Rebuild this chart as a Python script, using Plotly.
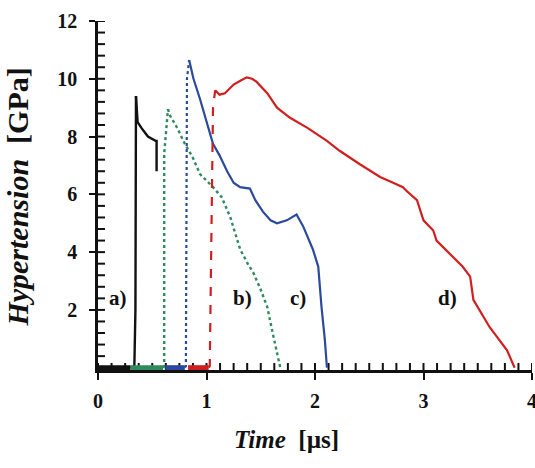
import plotly.graph_objects as go

# Stress histories (time in microseconds, stress in GPa)
a_time = [0.0, 0.30, 0.335, 0.345, 0.35, 0.365, 0.40, 0.46, 0.53, 0.54, 0.54]
a_stress = [0.0, 0.0, 0.05, 2.0, 9.4, 8.5, 8.3, 8.0, 7.85, 7.85, 6.8]

b_time = [0.30, 0.60, 0.61, 0.61, 0.645, 0.66, 0.73, 0.80, 0.87, 0.94, 1.06, 1.14,
          1.22, 1.31, 1.38, 1.43, 1.50, 1.56, 1.61, 1.68]
b_stress = [0.0, 0.0, 0.05, 7.4, 8.95, 8.75, 8.3, 7.75, 7.3, 6.7, 6.25, 5.9,
            5.2, 4.1, 3.6, 3.3, 2.7, 2.1, 1.2, 0.0]

c_time = [0.62, 0.80, 0.81, 0.82, 0.84, 0.88, 0.94, 1.00, 1.06, 1.12, 1.19, 1.25,
          1.31, 1.40, 1.45, 1.52, 1.59, 1.65, 1.74, 1.83, 1.89, 1.98, 2.03, 2.06,
          2.09, 2.11]
c_stress = [0.0, 0.0, 0.05, 10.0, 10.65, 10.0, 9.3, 8.5, 7.75, 7.35, 6.8, 6.4,
            6.25, 6.2, 5.8, 5.4, 5.1, 5.0, 5.1, 5.3, 4.9, 4.1, 3.5, 2.1,
            1.0, 0.0]

d_time = [0.83, 1.02, 1.03, 1.06, 1.08, 1.12, 1.17, 1.25, 1.32, 1.37, 1.42, 1.46,
          1.56, 1.65, 1.77, 1.93, 2.11, 2.23, 2.41, 2.60, 2.72, 2.81, 2.85, 2.94,
          3.00, 3.09, 3.12, 3.25, 3.36, 3.43, 3.46, 3.61, 3.77, 3.84]
d_stress = [0.0, 0.0, 0.05, 9.0, 9.6, 9.45, 9.5, 9.8, 9.95, 10.05, 10.0, 9.9,
            9.5, 9.0, 8.65, 8.3, 7.85, 7.5, 7.05, 6.6, 6.4, 6.25, 6.1, 5.8,
            5.1, 4.75, 4.4, 3.9, 3.5, 3.15, 2.35, 1.4, 0.6, 0.0]

curve_labels = ["a)", "b)", "c)", "d)"]
label_time = [0.18, 1.33, 1.84, 3.22]
label_stress = [2.4, 2.4, 2.4, 2.4]

x_ticks = [0, 1, 2, 3, 4]
y_ticks = [2, 4, 6, 8, 10, 12]
x_minor_step = 0.125
y_minor_step = 0.4

X_RANGE = [0, 4]
Y_RANGE = [-0.08, 12]

W, H = 535, 468
MARGIN = dict(l=98, r=3, t=21, b=98)

SERIF = "Liberation Serif"
BLACK = "#111111"
GREEN = "#2f8a5c"
BLUE = "#2b4a9c"
RED = "#d01f1f"

fig = go.Figure()

# minor ticks on the inner side of both axes, as short segments
plot_w = W - MARGIN["l"] - MARGIN["r"]
plot_h = H - MARGIN["t"] - MARGIN["b"]
x_per_px = (X_RANGE[1] - X_RANGE[0]) / plot_w
y_per_px = (Y_RANGE[1] - Y_RANGE[0]) / plot_h
tick_x, tick_y = [], []
for i in range(int(round((X_RANGE[1] - X_RANGE[0]) / x_minor_step)) + 1):
    v = X_RANGE[0] + i * x_minor_step
    tick_x += [v, v, None]
    tick_y += [Y_RANGE[0], Y_RANGE[0] + 7 * y_per_px, None]
for i in range(int(round(12 / y_minor_step)) + 1):
    v = i * y_minor_step
    tick_x += [X_RANGE[0], X_RANGE[0] + 7 * x_per_px, None]
    tick_y += [v, v, None]
fig.add_trace(go.Scatter(x=tick_x, y=tick_y, mode="lines", connectgaps=False,
                         line=dict(color=BLACK, width=2), hoverinfo="skip"))


def add_curve(t, p, color, rise_end, rise_dash, fall_dash, width=2.2):
    # flat baseline on the time axis
    fig.add_trace(go.Scatter(x=t[:2], y=p[:2], mode="lines",
                             line=dict(color=color, width=5), hoverinfo="skip"))
    # shock front
    fig.add_trace(go.Scatter(x=t[1:rise_end], y=p[1:rise_end], mode="lines",
                             line=dict(color=color, width=width, dash=rise_dash)))
    # release
    fig.add_trace(go.Scatter(x=t[rise_end - 1:], y=p[rise_end - 1:], mode="lines",
                             line=dict(color=color, width=width, dash=fall_dash)))


add_curve(a_time, a_stress, BLACK, 5, "solid", "solid", 2.4)
add_curve(b_time, b_stress, GREEN, 5, "dot", "dot", 2.4)
add_curve(c_time, c_stress, BLUE, 5, "dot", "solid", 2.2)
add_curve(d_time, d_stress, RED, 5, "dash", "solid", 2.2)

for lab, tx, ty in zip(curve_labels, label_time, label_stress):
    fig.add_annotation(x=tx, y=ty, text="<b>%s</b>" % lab, showarrow=False,
                       font=dict(family=SERIF, size=21, color=BLACK))

# axis titles
fig.add_annotation(xref="paper", yref="paper", x=0.435, y=-0.2,
                   text="<b><i>Time</i></b>\u00a0\u00a0<b>[\u00b5s]</b>",
                   showarrow=False, xanchor="center", yanchor="middle",
                   font=dict(family=SERIF, size=25, color=BLACK))
fig.add_annotation(xref="paper", yref="paper", x=-0.185, y=0.496,
                   text="<b><i>Hypertension</i></b>\u00a0\u00a0<b>[GPa]</b>",
                   showarrow=False, textangle=-90, xanchor="center", yanchor="middle",
                   font=dict(family=SERIF, size=30, color=BLACK))

fig.update_layout(
    width=W, height=H,
    margin=dict(**MARGIN, autoexpand=False),
    paper_bgcolor="white", plot_bgcolor="white",
    showlegend=False,
    font=dict(family=SERIF, color=BLACK),
    xaxis=dict(
        range=X_RANGE, tickmode="linear", tick0=x_ticks[0], dtick=x_ticks[1] - x_ticks[0],
        tickformat="d", ticklabeloverflow="allow", automargin=False,
        showgrid=False, zeroline=False, showline=True, linecolor=BLACK, linewidth=3,
        ticks="outside", ticklen=7, tickwidth=2, tickcolor=BLACK,
        ticklabelstandoff=4, tickfont=dict(family=SERIF, size=20, color=BLACK, weight="bold"),
    ),
    yaxis=dict(
        range=Y_RANGE, tickmode="array", tickvals=y_ticks,
        ticktext=["<b>%d</b>" % v for v in y_ticks], automargin=False,
        showgrid=False, zeroline=False, showline=True, linecolor=BLACK, linewidth=2.5,
        ticks="outside", ticklen=6, tickwidth=2, tickcolor=BLACK,
        ticklabelstandoff=8, tickfont=dict(family=SERIF, size=20, color=BLACK),
    ),
)

fig.write_html("out.html")
